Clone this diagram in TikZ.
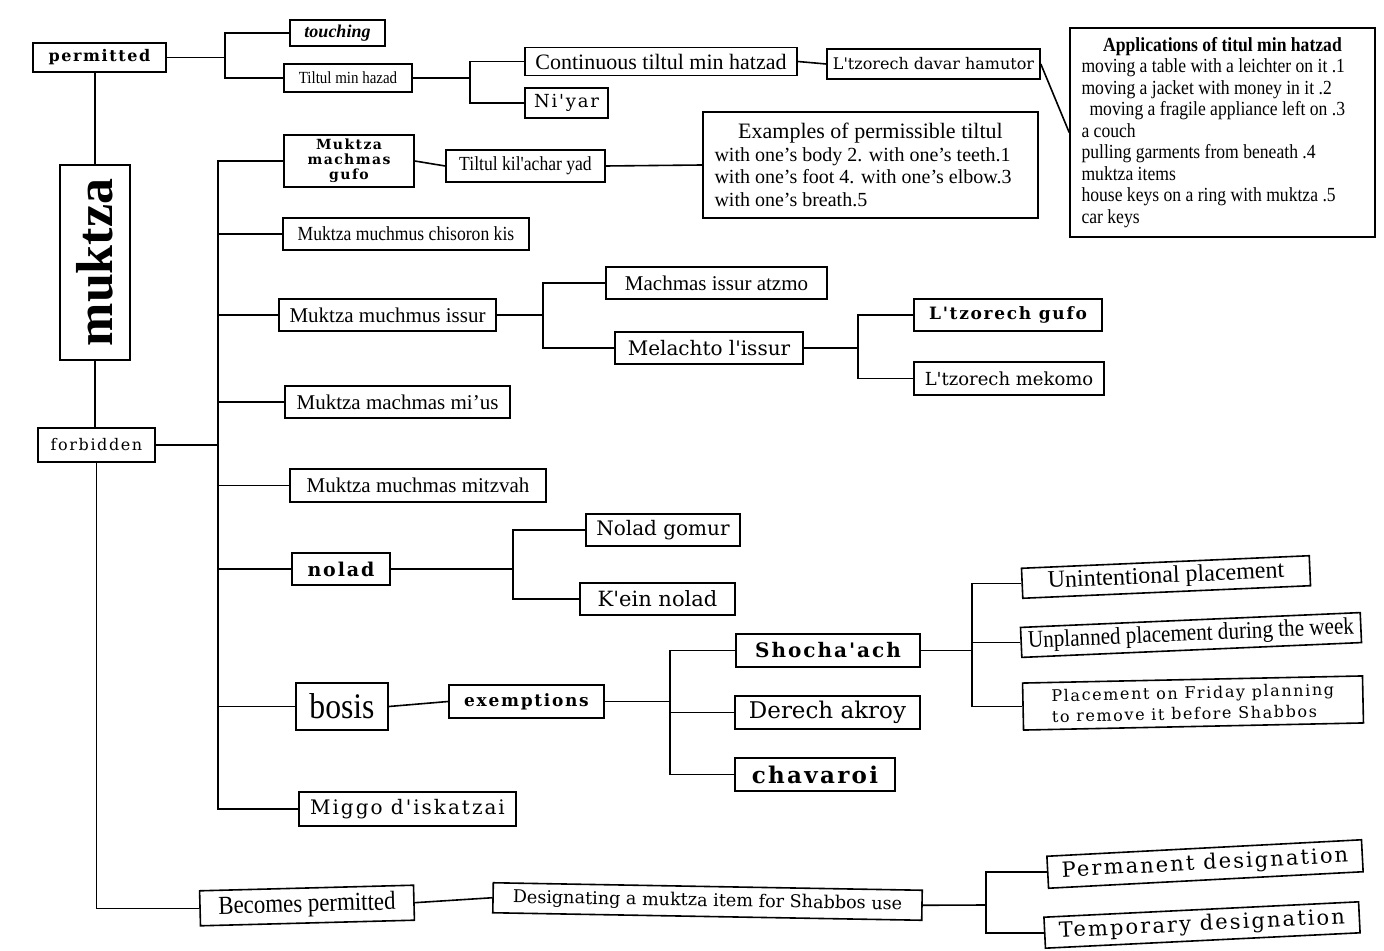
\documentclass[tikz,border=0pt]{standalone}
\usepackage{fontspec}
\setmainfont{Liberation Serif}
\newfontfamily\wide{DejaVu Serif}
\newfontfamily\widesp[LetterSpace=10]{DejaVu Serif}
\newfontfamily\cond[FakeStretch=0.88]{Liberation Serif}
\newcommand\fsz[2]{\fontsize{#1}{#2}\selectfont}
\begin{document}
\begin{tikzpicture}[x=0.5pt,y=-0.5pt,
  bx/.style={draw, line width=0.8pt, inner sep=1pt, align=center, fill=white},
  ln/.style={line width=0.8pt},
  sz/.style 2 args={minimum width=#1, minimum height=#2}]
\useasboundingbox (0,0) rectangle (1384,951);

% ---- nodes ----
\node[bx, sz={66.5pt}{14.5pt}, font=\widesp\bfseries\fsz{8}{9}] (perm) at (99.5,57.5) {permitted};
\node[bx, sz={35pt}{97.5pt}, font=\bfseries\fsz{26}{28}] (muk) at (95,262.5) {\rotatebox{90}{muktza}};
\node[bx, sz={58.5pt}{17pt}, font=\widesp\fsz{8}{9}] (forb) at (96.5,445) {forbidden};
\node[bx, sz={47.5pt}{13pt}, font=\bfseries\itshape\fsz{9}{10}] (touch) at (337.5,33) {touching};
\node[bx, sz={64pt}{14pt}, font=\cond\fsz{8.5}{10}] (tmh) at (348,78) {Tiltul min hazad};
\node[bx, sz={136pt}{14pt}, font=\fsz{11}{12}] (cont) at (661,61.5) {Continuous tiltul min hatzad};
\node[bx, sz={41.5pt}{15pt}, font=\widesp\fsz{9}{10}] (niyar) at (566.5,103) {Ni'yar};
\node[bx, sz={106.5pt}{15pt}, font=\wide\fsz{8}{9}] (davar) at (933.5,64) {L'tzorech davar hamutor};
\node[bx, sz={152.5pt}{104.5pt}, inner sep=0pt] (apps) at (1222.5,132.5)
  {\parbox{141pt}{\cond\fsz{10}{10.75}\centering\bfseries Applications of titul min hatzad\par
   \raggedright\mdseries moving a table with a leichter on it .1\\
   moving a jacket with money in it .2\\
   \hspace*{4pt}moving a fragile appliance left on .3\\
   a couch\\
   pulling garments from beneath .4\\
   muktza items\\
   house keys on a ring with muktza .5\\
   car keys}};

\node[bx, sz={65pt}{26pt}, font=\widesp\bfseries\fsz{7}{7.5}] (gufo) at (349,161) {Muktza\\machmas\\gufo};
\node[bx, sz={79.5pt}{16pt}, font=\cond\fsz{10}{11}] (tky) at (525.5,166) {Tiltul kil'achar yad};
\node[bx, sz={167.5pt}{53pt}, inner sep=0pt] (ex) at (870.5,165)
  {\parbox{156pt}{\fsz{10}{11.25}\centering{\fsz{11}{11.25}Examples of permissible tiltul}\par
   \raggedright with one's body 2. with one's teeth.1\\
   with one's foot 4. with one's elbow.3\\
   with one's breath.5}};

\node[bx, sz={123pt}{16pt}, font=\cond\fsz{10}{11}] (kis) at (406,234) {Muktza muchmus chisoron kis};
\node[bx, sz={108.5pt}{16pt}, font=\fsz{10.5}{11}] (issur) at (387.5,315) {Muktza muchmus issur};
\node[bx, sz={110.5pt}{16pt}, font=\fsz{10.5}{11}] (atzmo) at (716.5,283) {Machmas issur atzmo};
\node[bx, sz={94pt}{16pt}, font=\wide\fsz{10}{11}] (melachto) at (709,348) {Melachto l'issur};
\node[bx, sz={94pt}{16pt}, font=\widesp\bfseries\fsz{8.5}{10}] (lgufo) at (1008,315) {L'tzorech gufo};
\node[bx, sz={95pt}{16.5pt}, font=\wide\fsz{9}{10}] (mekomo) at (1009,378.5) {L'tzorech mekomo};
\node[bx, sz={112.5pt}{16pt}, font=\fsz{10.5}{11}] (mius) at (397.5,402) {Muktza machmas mi'us};
\node[bx, sz={128pt}{16.5pt}, font=\fsz{10.5}{11}] (mitzvah) at (418,485.5) {Muktza muchmas mitzvah};
\node[bx, sz={49pt}{16pt}, font=\widesp\bfseries\fsz{9.5}{10}] (nolad) at (341,569) {nolad};
\node[bx, sz={77pt}{16pt}, font=\wide\fsz{10}{11}] (gomur) at (663,530) {Nolad gomur};
\node[bx, sz={77.5pt}{16pt}, font=\wide\fsz{10.5}{11}] (kein) at (657.5,599) {K'ein nolad};
\node[bx, sz={46pt}{23.5pt}, font=\cond\fsz{18}{19}] (bosis) at (342,706.5) {bosis};
\node[bx, sz={77.5pt}{16.5pt}, font=\widesp\bfseries\fsz{8.5}{10}] (exempt) at (526.5,701.5) {exemptions};
\node[bx, sz={92pt}{16.5pt}, font=\widesp\bfseries\fsz{10}{11}] (shoch) at (828,650.5) {Shocha'ach};
\node[bx, sz={92.5pt}{16.5pt}, font=\wide\fsz{11.5}{12}] (derech) at (827.5,712.5) {Derech akroy};
\node[bx, sz={80pt}{16.5pt}, font=\widesp\bfseries\fsz{11.5}{12}] (chav) at (815,774.5) {chavaroi};

\node[bx, rotate=2.5, sz={144pt}{15pt}, font=\fsz{12}{13}] (unint) at (1166,577) {Unintentional placement};
\node[bx, rotate=2.5, sz={170pt}{15pt}, font=\cond\fsz{12}{13}] (unpl) at (1191,635) {Unplanned placement during the week};
\node[bx, rotate=1.2, sz={170pt}{23.5pt}, align=left, font=\widesp\fsz{8}{10.5}] (fri) at (1193,703) {Placement on Friday planning\\to remove it before Shabbos};
\node[bx, sz={108.5pt}{17pt}, font=\widesp\fsz{10}{11}] (miggo) at (407.5,809) {Miggo d'iskatzai};
\node[bx, rotate=1.5, sz={107pt}{17.5pt}, font=\cond\fsz{13}{14}] (becomes) at (307,905.5) {Becomes permitted};
\node[bx, rotate=-1, sz={214.5pt}{15pt}, font=\wide\fsz{8.8}{10}] (desig) at (707.5,901.5) {Designating a muktza item for Shabbos use};
\node[bx, rotate=3, sz={157.5pt}{16pt}, font=\widesp\fsz{10.5}{11}] (perman) at (1205,864) {Permanent designation};
\node[bx, rotate=2.8, sz={157.5pt}{15.5pt}, font=\widesp\fsz{10.5}{11}] (temp) at (1202,925) {Temporary designation};

% ---- connectors ----
\coordinate (jp) at (225,57.5);
\draw[ln] (perm.east) -- (jp);
\draw[ln] (touch.west) -| (jp);
\draw[ln] (tmh.west) -| (jp);
\draw[ln] (muk.north) -- (muk.north |- perm.south);
\draw[ln] (muk.south) -- (muk.south |- forb.north);
\draw[ln] (forb.south) |- (becomes.west);

\coordinate (jt) at (470,78);
\draw[ln] (tmh.east) -- (jt);
\draw[ln] (cont.west) -| (jt);
\draw[ln] (niyar.west) -| (jt);
\draw[ln] (cont.east) -- (davar.west);
\draw[ln] (davar.east) -- (apps.west);

\coordinate (jf) at (218,445);
\draw[ln] (forb.east) -- (jf);
\foreach \c in {gufo,kis,issur,mius,mitzvah,nolad,bosis,miggo}
  \draw[ln] (\c.west) -| (jf);

\draw[ln] (gufo.east) -- (tky.west);
\draw[ln] (tky.east) -- (ex.west);

\coordinate (ji) at (543,315);
\draw[ln] (issur.east) -- (ji);
\draw[ln] (atzmo.west) -| (ji);
\draw[ln] (melachto.west) -| (ji);

\coordinate (jm) at (858,348);
\draw[ln] (melachto.east) -- (jm);
\draw[ln] (lgufo.west) -| (jm);
\draw[ln] (mekomo.west) -| (jm);

\coordinate (jn) at (513,569);
\draw[ln] (nolad.east) -- (jn);
\draw[ln] (gomur.west) -| (jn);
\draw[ln] (kein.west) -| (jn);

\draw[ln] (bosis.east) -- (exempt.west);
\coordinate (je) at (670,701.5);
\draw[ln] (exempt.east) -- (je);
\draw[ln] (shoch.west) -| (je);
\draw[ln] (derech.west) -| (je);
\draw[ln] (chav.west) -| (je);

\coordinate (js) at (972,650.5);
\draw[ln] (shoch.east) -- (js);
\draw[ln] (unint.west) -| (js);
\draw[ln] (unpl.west) -| (js);
\draw[ln] (fri.west) -| (js);

\draw[ln] (becomes.east) -- (desig.west);
\coordinate (jd) at (986,905);
\draw[ln] (desig.east) -- (jd);
\draw[ln] (perman.west) -| (jd);
\draw[ln] (temp.west) -| (jd);
\end{tikzpicture}
\end{document}
